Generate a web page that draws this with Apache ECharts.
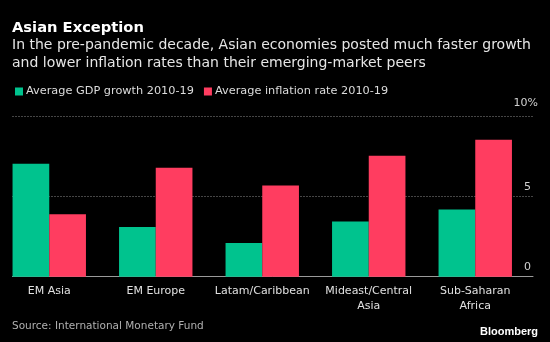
<!DOCTYPE html>
<html><head><meta charset="utf-8">
<script src="https://cdn.jsdelivr.net/npm/echarts@6/dist/echarts.min.js"></script>
<style>html,body{margin:0;padding:0;background:#000}#c{width:550px;height:342px}</style>
</head><body><div id="c"></div>
<script>
var categories = ['EM Asia', 'EM Europe', 'Latam/Caribbean', 'Mideast/Central\nAsia', 'Sub-Saharan\nAfrica'];
var gdpGrowth = [7.05, 3.1, 2.1, 3.45, 4.2];
var inflation = [3.9, 6.8, 5.7, 7.55, 8.55];
var yTicks = [0, 5, 10];
var seriesNames = ['Average GDP growth 2010-19', 'Average inflation rate 2010-19'];
var FONT = 'DejaVu Sans';
var chart = echarts.init(document.getElementById('c'));
chart.setOption({
  backgroundColor: '#000',
  animation: false,
  textStyle: {fontFamily: FONT},
  title: [{
    text: 'Asian Exception',
    left: 12, top: 20.5, padding: 0,
    textStyle: {color: '#fff', fontSize: 14.7, fontWeight: 'bold', fontFamily: FONT}
  }, {
    text: 'In the pre-pandemic decade, Asian economies posted much faster growth\nand lower inflation rates than their emerging-market peers',
    left: 12, top: 36, padding: 0,
    textStyle: {color: '#e6e6e6', fontSize: 14, lineHeight: 18, fontWeight: 'normal', fontFamily: FONT}
  }, {
    text: 'Source: International Monetary Fund',
    left: 12, top: 320.5,
    padding: 0,
    textStyle: {color: '#b0b0b0', fontSize: 10.5, fontWeight: 'normal', fontFamily: FONT}
  }, {
    text: 'Bloomberg',
    right: 12, top: 326,
    padding: 0,
    textStyle: {color: '#fff', fontSize: 11, fontWeight: 'bold', fontFamily: 'Liberation Sans'}
  }],
  legend: {
    left: 10, top: 81,
    itemWidth: 8, itemHeight: 8, itemGap: 10,
    icon: 'rect',
    textStyle: {color: '#dcdcdc', fontSize: 11.3, fontFamily: FONT, padding: [0, 0, 0, -2]},
    data: seriesNames
  },
  grid: [
    {left: -4, width: 532.5, top: 116.5, bottom: 65.3, containLabel: false, outerBoundsMode: 'none'},
    {left: 12.5, right: 17, top: 116.5, bottom: 65.3, containLabel: false, outerBoundsMode: 'none'}
  ],
  xAxis: [{
    gridIndex: 0, type: 'category', data: categories,
    axisLine: {show: false}, axisTick: {show: false},
    axisLabel: {color: '#e0e0e0', fontSize: 11, margin: 7, lineHeight: 15, interval: 0, fontFamily: FONT}
  }, {
    gridIndex: 1, type: 'value', min: 0, max: 1,
    axisLine: {show: true, lineStyle: {color: '#9a9a9a', width: 1}},
    axisTick: {show: false}, axisLabel: {show: false}, splitLine: {show: false}
  }],
  yAxis: [{
    gridIndex: 0, type: 'value', min: 0, max: 10, show: false
  }, {
    gridIndex: 1, type: 'value', min: yTicks[0], max: yTicks[yTicks.length - 1], interval: 5,
    position: 'right',
    axisLine: {show: false}, axisTick: {show: false},
    splitLine: {show: true, lineStyle: {color: '#8a8a8a', type: [1, 2], width: 1}},
    axisLabel: {
      align: 'right', margin: 5, verticalAlign: 'bottom',
      color: '#d0d0d0', fontSize: 11, fontFamily: FONT,
      formatter: function (v) { return v === 10 ? '{t|10%}' : '{n|' + v + '}{s|}'; },
      rich: {
        t: {color: '#d0d0d0', fontSize: 11, fontFamily: FONT, padding: [0, 0, 8, 0]},
        n: {color: '#d0d0d0', fontSize: 11, fontFamily: FONT, padding: [0, 0, 4, 0]},
        s: {width: 7}
      }
    }
  }],
  series: [{
    name: seriesNames[0], type: 'bar', xAxisIndex: 0, yAxisIndex: 0,
    data: gdpGrowth, barWidth: 36.7, barGap: '0%',
    itemStyle: {color: '#00c38e'}, z: 3
  }, {
    name: seriesNames[1], type: 'bar', xAxisIndex: 0, yAxisIndex: 0,
    data: inflation, barWidth: 36.7, barGap: '0%',
    itemStyle: {color: '#ff3d60'}, z: 3
  }]
});
</script></body></html>
